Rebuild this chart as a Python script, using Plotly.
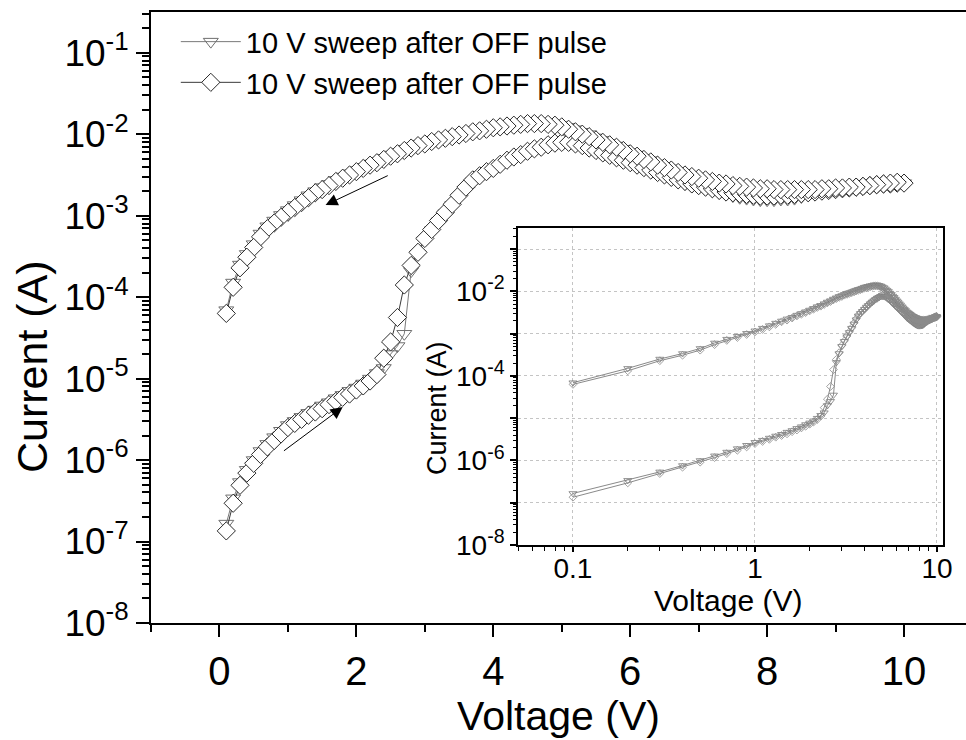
import numpy as np
import plotly.graph_objects as go

# ---------------- data ----------------
v_fwd = [round(0.1 * k, 1) for k in range(1, 101)]      # 0.1 -> 10.0 V
v_bwd = [round(0.1 * k, 1) for k in range(99, 0, -1)]   # 9.9 -> 0.1 V

# series 1 (down triangles)
i_tri_fwd = [
    1.66e-7, 3.39e-7, 5.37e-7, 7.59e-7, 1.00e-6, 1.29e-6, 1.58e-6, 1.91e-6, 2.29e-6, 2.69e-6,
    3.02e-6, 3.39e-6, 3.80e-6, 4.17e-6, 4.68e-6, 5.13e-6, 5.75e-6, 6.31e-6, 7.08e-6, 7.76e-6,
    8.71e-6, 1.00e-5, 1.17e-5, 1.35e-5, 2.00e-5, 2.51e-5, 3.55e-5, 2.09e-4, 3.39e-4, 5.01e-4,
    6.61e-4, 8.51e-4, 1.07e-3, 1.35e-3, 1.70e-3, 2.14e-3, 2.63e-3, 3.02e-3, 3.39e-3, 3.80e-3,
    4.27e-3, 4.68e-3, 5.13e-3, 5.62e-3, 6.03e-3, 6.46e-3, 6.92e-3, 7.24e-3, 7.59e-3, 7.76e-3,
    7.76e-3, 7.59e-3, 7.08e-3, 6.61e-3, 6.17e-3, 5.75e-3, 5.37e-3, 4.90e-3, 4.57e-3, 4.27e-3,
    3.98e-3, 3.72e-3, 3.47e-3, 3.24e-3, 3.02e-3, 2.82e-3, 2.63e-3, 2.45e-3, 2.29e-3, 2.19e-3,
    2.09e-3, 2.00e-3, 1.91e-3, 1.82e-3, 1.74e-3, 1.66e-3, 1.62e-3, 1.58e-3, 1.55e-3, 1.55e-3,
    1.55e-3, 1.58e-3, 1.58e-3, 1.62e-3, 1.70e-3, 1.78e-3, 1.86e-3, 1.91e-3, 2.00e-3, 2.04e-3,
    2.09e-3, 2.14e-3, 2.19e-3, 2.24e-3, 2.29e-3, 2.34e-3, 2.40e-3, 2.45e-3, 2.45e-3, 2.51e-3,
]
i_tri_bwd = [
    2.57e-3, 2.51e-3, 2.45e-3, 2.40e-3, 2.34e-3, 2.29e-3, 2.29e-3, 2.24e-3, 2.24e-3, 2.19e-3,
    2.19e-3, 2.14e-3, 2.14e-3, 2.14e-3, 2.14e-3, 2.14e-3, 2.14e-3, 2.14e-3, 2.19e-3, 2.19e-3,
    2.24e-3, 2.29e-3, 2.34e-3, 2.40e-3, 2.45e-3, 2.57e-3, 2.63e-3, 2.75e-3, 2.88e-3, 3.02e-3,
    3.16e-3, 3.31e-3, 3.55e-3, 3.80e-3, 4.07e-3, 4.37e-3, 4.79e-3, 5.13e-3, 5.62e-3, 6.03e-3,
    6.61e-3, 7.24e-3, 7.76e-3, 8.51e-3, 9.12e-3, 1.00e-2, 1.07e-2, 1.15e-2, 1.23e-2, 1.29e-2,
    1.35e-2, 1.38e-2, 1.41e-2, 1.41e-2, 1.41e-2, 1.38e-2, 1.35e-2, 1.32e-2, 1.29e-2, 1.26e-2,
    1.20e-2, 1.15e-2, 1.12e-2, 1.07e-2, 1.02e-2, 9.77e-3, 9.33e-3, 8.91e-3, 8.51e-3, 7.94e-3,
    7.59e-3, 7.08e-3, 6.61e-3, 6.03e-3, 5.62e-3, 5.13e-3, 4.68e-3, 4.37e-3, 3.98e-3, 3.63e-3,
    3.31e-3, 3.02e-3, 2.75e-3, 2.45e-3, 2.24e-3, 2.00e-3, 1.78e-3, 1.55e-3, 1.35e-3, 1.17e-3,
    1.02e-3, 8.71e-4, 7.41e-4, 6.03e-4, 4.47e-4, 3.39e-4, 2.51e-4, 1.51e-4, 6.92e-5,
]

# series 2 (diamonds)
i_dia_fwd = [
    1.35e-7, 2.95e-7, 4.90e-7, 6.92e-7, 9.12e-7, 1.17e-6, 1.45e-6, 1.74e-6, 2.09e-6, 2.51e-6,
    2.82e-6, 3.16e-6, 3.55e-6, 3.89e-6, 4.27e-6, 4.79e-6, 5.25e-6, 5.89e-6, 6.46e-6, 7.24e-6,
    8.13e-6, 9.33e-6, 1.12e-5, 1.78e-5, 2.82e-5, 5.62e-5, 1.41e-4, 2.45e-4, 3.55e-4, 5.25e-4,
    6.76e-4, 8.71e-4, 1.10e-3, 1.38e-3, 1.78e-3, 2.24e-3, 2.75e-3, 3.09e-3, 3.47e-3, 3.80e-3,
    4.27e-3, 4.79e-3, 5.25e-3, 5.62e-3, 6.17e-3, 6.61e-3, 6.92e-3, 7.41e-3, 7.76e-3, 7.94e-3,
    7.94e-3, 7.59e-3, 7.24e-3, 6.76e-3, 6.31e-3, 5.89e-3, 5.50e-3, 5.13e-3, 4.79e-3, 4.47e-3,
    4.17e-3, 3.89e-3, 3.63e-3, 3.39e-3, 3.16e-3, 2.95e-3, 2.75e-3, 2.63e-3, 2.45e-3, 2.34e-3,
    2.24e-3, 2.14e-3, 2.04e-3, 1.95e-3, 1.91e-3, 1.86e-3, 1.82e-3, 1.78e-3, 1.74e-3, 1.74e-3,
    1.74e-3, 1.78e-3, 1.78e-3, 1.82e-3, 1.86e-3, 1.91e-3, 1.95e-3, 2.00e-3, 2.04e-3, 2.09e-3,
    2.14e-3, 2.19e-3, 2.24e-3, 2.29e-3, 2.34e-3, 2.40e-3, 2.45e-3, 2.45e-3, 2.51e-3, 2.51e-3,
]
i_dia_bwd = [
    2.57e-3, 2.51e-3, 2.45e-3, 2.40e-3, 2.34e-3, 2.29e-3, 2.24e-3, 2.24e-3, 2.19e-3, 2.19e-3,
    2.14e-3, 2.14e-3, 2.09e-3, 2.09e-3, 2.09e-3, 2.09e-3, 2.09e-3, 2.09e-3, 2.09e-3, 2.14e-3,
    2.14e-3, 2.19e-3, 2.24e-3, 2.29e-3, 2.34e-3, 2.45e-3, 2.51e-3, 2.63e-3, 2.75e-3, 2.88e-3,
    3.02e-3, 3.16e-3, 3.39e-3, 3.63e-3, 3.89e-3, 4.17e-3, 4.57e-3, 4.90e-3, 5.37e-3, 5.75e-3,
    6.31e-3, 6.92e-3, 7.41e-3, 7.94e-3, 8.51e-3, 9.33e-3, 1.00e-2, 1.07e-2, 1.15e-2, 1.23e-2,
    1.29e-2, 1.32e-2, 1.35e-2, 1.35e-2, 1.35e-2, 1.32e-2, 1.29e-2, 1.26e-2, 1.23e-2, 1.20e-2,
    1.15e-2, 1.10e-2, 1.07e-2, 1.02e-2, 9.77e-3, 9.33e-3, 8.91e-3, 8.51e-3, 8.13e-3, 7.59e-3,
    7.24e-3, 6.76e-3, 6.31e-3, 5.75e-3, 5.37e-3, 4.90e-3, 4.47e-3, 4.17e-3, 3.80e-3, 3.47e-3,
    3.16e-3, 2.88e-3, 2.63e-3, 2.34e-3, 2.09e-3, 1.91e-3, 1.66e-3, 1.45e-3, 1.26e-3, 1.10e-3,
    9.55e-4, 8.13e-4, 6.92e-4, 5.50e-4, 4.07e-4, 3.09e-4, 2.29e-4, 1.32e-4, 6.31e-5,
]

series_names = ["10 V sweep after OFF pulse", "10 V sweep after OFF pulse"]
main_x_ticks = [0, 2, 4, 6, 8, 10]
main_y_exps = [-8, -7, -6, -5, -4, -3, -2, -1]
inset_x_ticks = [0.1, 1, 10]
inset_x_labels = ["0.1", "1", "10"]
inset_y_exps = [-8, -7, -6, -5, -4, -3, -2, -1]
x_title = "Voltage (V)"
y_title = "Current (A)"

# ---------------- styling ----------------
FONT = "Liberation Sans, Arial, sans-serif"
W, H = 966, 740

v_all = v_fwd + v_bwd
i_tri = i_tri_fwd + i_tri_bwd
i_dia = i_dia_fwd + i_dia_bwd

fig = go.Figure()

# main plot
fig.add_trace(go.Scatter(
    x=v_all, y=i_tri, mode="lines+markers", name=series_names[0],
    line=dict(color="#7a7a7a", width=1),
    marker=dict(symbol="triangle-down-open", size=13, color="#6e6e6e", line=dict(width=1)),
    xaxis="x", yaxis="y"))
fig.add_trace(go.Scatter(
    x=v_all, y=i_dia, mode="lines+markers", name=series_names[1],
    line=dict(color="#3a3a3a", width=1),
    marker=dict(symbol="diamond", size=14, color="white", line=dict(width=1, color="#2a2a2a")),
    xaxis="x", yaxis="y"))

# inset
fig.add_trace(go.Scatter(
    x=v_all, y=i_tri, mode="lines+markers", showlegend=False,
    line=dict(color="#8a8a8a", width=1),
    marker=dict(symbol="triangle-down-open", size=7, color="#7a7a7a", line=dict(width=0.8)),
    xaxis="x2", yaxis="y2"))
fig.add_trace(go.Scatter(
    x=v_all, y=i_dia, mode="lines+markers", showlegend=False,
    line=dict(color="#8a8a8a", width=1),
    marker=dict(symbol="diamond-open", size=6, color="#8a8a8a", line=dict(width=0.8)),
    xaxis="x2", yaxis="y2"))

def decade_minors(lo, hi):
    return [k * 10.0 ** e for e in range(lo, hi) for k in range(2, 10)]

main_ytext = [f"10<sup>{e}</sup>" for e in main_y_exps]
inset_ytext = [f"10<sup>{e}</sup>" if e % 2 == 0 else "" for e in inset_y_exps]

fig.update_layout(
    width=W, height=H,
    margin=dict(l=0, r=0, t=0, b=0),
    paper_bgcolor="white", plot_bgcolor="white",
    font=dict(family=FONT, color="black"),
    showlegend=True,
    legend=dict(x=0.182, y=0.978, xanchor="left", yanchor="top",
                bgcolor="rgba(0,0,0,0)", font=dict(size=29, family=FONT),
                itemwidth=60, tracegroupgap=0),
    xaxis=dict(
        domain=[151 / W, 1.0], anchor="y", range=[-1, 10.905],
        tickmode="array", tickvals=main_x_ticks,
        ticks="outside", ticklen=12, tickwidth=2, tickcolor="black",
        showline=True, linewidth=2, linecolor="black", mirror=True,
        showgrid=False, zeroline=False, automargin=False,
        minor=dict(tickvals=[-1, 1, 3, 5, 7, 9], ticks="outside", ticklen=7,
                   tickwidth=2, tickcolor="black", showgrid=False),
        tickfont=dict(size=40),
        title=dict(text=x_title, font=dict(size=41), standoff=8),
    ),
    yaxis=dict(
        domain=[1 - 623 / H, 1 - 12 / H], anchor="x", type="log", range=[-8, -0.5],
        tickmode="array", tickvals=[10.0 ** e for e in main_y_exps], ticktext=main_ytext,
        ticks="outside", ticklen=13, tickwidth=2, tickcolor="black",
        showline=True, linewidth=2, linecolor="black", mirror=False,
        showgrid=False, zeroline=False, automargin=False,
        minor=dict(tickvals=decade_minors(-8, 0), ticks="outside", ticklen=7,
                   tickwidth=1.5, tickcolor="black", showgrid=False),
        tickfont=dict(size=37),
    ),
    xaxis2=dict(
        domain=[518 / W, 943 / W], anchor="y2", type="log", range=[-1.302, 1.033],
        tickmode="array", tickvals=inset_x_ticks, ticktext=inset_x_labels,
        ticks="outside", ticklen=5, tickwidth=1.5, tickcolor="black",
        showline=True, linewidth=1.5, linecolor="black", mirror=True,
        showgrid=True, gridcolor="#c4c4c4", griddash="dot", gridwidth=1,
        zeroline=False, automargin=False, ticklabelstandoff=-7,
        minor=dict(tickvals=decade_minors(-2, 1), ticks="outside", ticklen=4,
                   tickwidth=1, tickcolor="black", showgrid=False),
        tickfont=dict(size=28),
    ),
    yaxis2=dict(
        domain=[1 - 545 / H, 1 - 228 / H], anchor="x2", type="log", range=[-8, -0.5],
        tickmode="array", tickvals=[10.0 ** e for e in inset_y_exps], ticktext=inset_ytext,
        ticks="outside", ticklen=6, tickwidth=1.5, tickcolor="black",
        showline=True, linewidth=1.5, linecolor="black", mirror=True,
        showgrid=True, gridcolor="#c4c4c4", griddash="dot", gridwidth=1,
        zeroline=False, automargin=False,
        minor=dict(tickvals=decade_minors(-8, 0), ticks="outside", ticklen=3,
                   tickwidth=1, tickcolor="black", showgrid=False),
        tickfont=dict(size=28),
    ),
)

# axis titles placed as annotations (paper coordinates)
fig.add_annotation(text=y_title, textangle=-90, x=32 / W, y=1 - 367 / H,
                   xref="paper", yref="paper", showarrow=False,
                   font=dict(size=43), xanchor="center", yanchor="middle")
fig.add_annotation(text=y_title, textangle=-90, x=437 / W, y=1 - 408 / H,
                   xref="paper", yref="paper", showarrow=False,
                   font=dict(size=27), xanchor="center", yanchor="middle")
fig.add_annotation(text=x_title, x=728 / W, y=1 - 600 / H,
                   xref="paper", yref="paper", showarrow=False,
                   font=dict(size=30), xanchor="center", yanchor="middle")

# sweep-direction arrows (annotation positions in axis units; log10 for the log y axis)
fig.add_annotation(x=1.55, y=-2.87, ax=2.48, ay=-2.50, xref="x", yref="y",
                   axref="x", ayref="y", showarrow=True, arrowhead=2,
                   arrowsize=2.4, arrowwidth=1, arrowcolor="black", text="")
fig.add_annotation(x=1.80, y=-5.35, ax=0.92, ay=-5.90, xref="x", yref="y",
                   axref="x", ayref="y", showarrow=True, arrowhead=2,
                   arrowsize=2.4, arrowwidth=1, arrowcolor="black", text="")

fig.write_html("out.html")
